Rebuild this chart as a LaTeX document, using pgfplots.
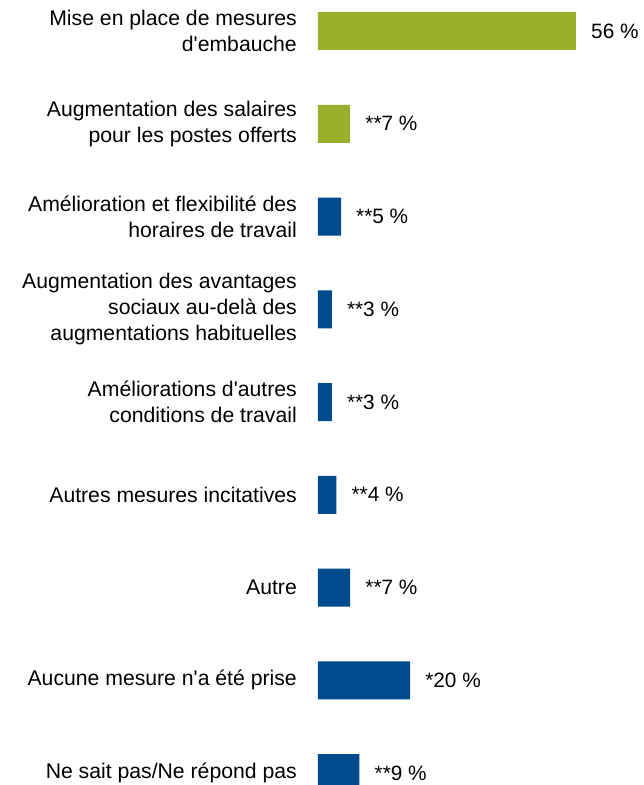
\documentclass[border=0pt]{standalone}
\usepackage{fontspec}
\setmainfont{Liberation Sans}
\usepackage{pgfplots}
\pgfplotsset{compat=1.18}
\definecolor{cgreen}{HTML}{9AAF2B}
\definecolor{cblue}{HTML}{004B8D}
\begin{document}
\fontsize{21.2}{26}\selectfont
\begin{tikzpicture}
\begin{axis}[
  scale only axis,
  width=326pt, height=785pt,
  xbar, bar width=38pt,
  xmin=0, xmax=70.76,
  ymin=-0.3342, ymax=8.129,
  y dir=reverse,
  axis line style={draw=none},
  xtick=\empty,
  ytick={0,1,2,3,4,5,6,7,8},
  yticklabels={
    {Mise en place de mesures\\d\textquotesingle embauche},
    {Augmentation des salaires\\pour les postes offerts},
    {Amélioration et flexibilité des\\horaires de travail},
    {Augmentation des avantages\\sociaux au-delà des\\augmentations habituelles},
    {Améliorations d\textquotesingle autres\\conditions de travail},
    {Autres mesures incitatives},
    {Autre},
    {Aucune mesure n\textquotesingle a été prise},
    {Ne sait pas/Ne répond pas}},
  ytick style={draw=none},
  major tick length=0pt,
  yticklabel style={align=right, inner sep=0pt, xshift=-21pt, font=\fontsize{21.2}{26}\selectfont},
  point meta=explicit symbolic,
  nodes near coords,
  nodes near coords style={anchor=west, inner sep=0pt, xshift=15pt, font=\fontsize{20.8}{25}\selectfont, text=black},
]
\addplot[fill=cgreen, draw=none, bar shift=0pt] coordinates {
  (56,0) [56 \%]
  (7,1) [**7 \%]
};
\addplot[fill=cblue, draw=none, bar shift=0pt] coordinates {
  (5,2) [**5 \%]
  (3,3) [**3 \%]
  (3,4) [**3 \%]
  (4,5) [**4 \%]
  (7,6) [**7 \%]
  (20,7) [*20 \%]
  (9,8) [**9 \%]
};
\end{axis}
\path ([xshift=-318pt]current axis.south west) rectangle (current axis.north east);
\end{tikzpicture}
\end{document}
